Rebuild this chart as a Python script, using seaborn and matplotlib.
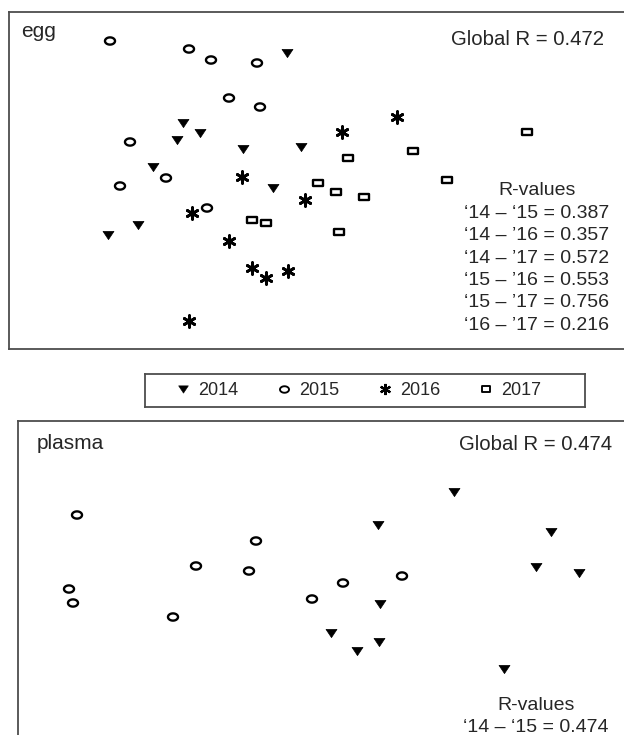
import numpy as np
import pandas as pd
import matplotlib
matplotlib.use("Agg")
import matplotlib.pyplot as plt
import seaborn as sns
from matplotlib.path import Path
from matplotlib.lines import Line2D

# NMDS coordinates (screen units)
egg_2014_x = [287, 183, 200, 177, 243, 301, 153, 273, 138, 108]
egg_2014_y = [53, 123, 133, 140, 149, 147, 167, 188, 225, 235]
egg_2015_x = [110, 189, 211, 257, 229, 260, 130, 166, 120, 207]
egg_2015_y = [41, 49, 60, 63, 98, 107, 142, 178, 186, 208]
egg_2016_x = [397, 342, 242, 305, 192, 229, 252, 266, 288, 189]
egg_2016_y = [117, 132, 177, 200, 213, 241, 268, 278, 271, 321]
egg_2017_x = [527, 413, 348, 447, 318, 336, 364, 252, 266, 339]
egg_2017_y = [132, 151, 158, 180, 183, 192, 197, 220, 223, 232]

plasma_2014_x = [454, 378, 551, 536, 579, 380, 331, 379, 357, 504]
plasma_2014_y = [492, 525, 532, 567, 573, 604, 633, 642, 651, 669]
plasma_2015_x = [77, 256, 196, 249, 69, 73, 312, 173, 402, 343]
plasma_2015_y = [515, 541, 566, 571, 589, 603, 599, 617, 576, 583]

years = ["2014", "2015", "2016", "2017"]
egg_r = ["\u201814 \u2013 \u201815 = 0.387", "\u201814 \u2013 \u201916 = 0.357",
         "\u201814 \u2013 \u201917 = 0.572", "\u201815 \u2013 \u201916 = 0.553",
         "\u201815 \u2013 \u201917 = 0.756", "\u201816 \u2013 \u201917 = 0.216"]
plasma_r = ["\u201814 \u2013 \u201815 = 0.474"]

egg = pd.concat([
    pd.DataFrame({"x": egg_2014_x, "y": egg_2014_y, "year": "2014"}),
    pd.DataFrame({"x": egg_2015_x, "y": egg_2015_y, "year": "2015"}),
    pd.DataFrame({"x": egg_2016_x, "y": egg_2016_y, "year": "2016"}),
    pd.DataFrame({"x": egg_2017_x, "y": egg_2017_y, "year": "2017"}),
])
plasma = pd.concat([
    pd.DataFrame({"x": plasma_2014_x, "y": plasma_2014_y, "year": "2014"}),
    pd.DataFrame({"x": plasma_2015_x, "y": plasma_2015_y, "year": "2015"}),
])

sns.set_style("white")
plt.rcParams["font.family"] = ["Liberation Sans", "DejaVu Sans"]

# marker shapes
t = np.linspace(0, 2 * np.pi, 60)
ellipse = Path(np.column_stack([np.cos(t), 0.72 * np.sin(t)]), closed=True)
rect = Path([(-1, -0.75), (1, -0.75), (1, 0.75), (-1, 0.75), (-1, -0.75)], closed=True)
tri = Path([(-1, 0.75), (1, 0.75), (0, -0.75), (-1, 0.75)], closed=True)
styles = {
    "2014": dict(marker=tri, s=62, facecolor="black", edgecolor="black", linewidth=0.5),
    "2015": dict(marker=ellipse, s=52, facecolor="none", edgecolor="black", linewidth=1.7),
    "2016": dict(marker=(6, 2, 0), s=72, color="black", linewidth=2.0),
    "2017": dict(marker=rect, s=44, facecolor="none", edgecolor="black", linewidth=1.7),
}
legend_sizes = {"2014": 7, "2015": 6.5, "2016": 8, "2017": 6}

W, H = 624, 735
fig = plt.figure(figsize=(6.24, 7.35), dpi=100)
frame = "#4d4d4d"


def panel(rect_px, xlim, ylim, df):
    l, t_, r, b = rect_px
    ax = fig.add_axes([l / W, 1 - b / H, (r - l) / W, (b - t_) / H])
    for yr, sub in df.groupby("year"):
        sns.scatterplot(data=sub, x="x", y="y", ax=ax, legend=False, **styles[yr])
    ax.set_xlim(*xlim)
    ax.set_ylim(*ylim)
    ax.set_xticks([])
    ax.set_yticks([])
    ax.set_xlabel("")
    ax.set_ylabel("")
    for sp in ax.spines.values():
        sp.set_color(frame)
        sp.set_linewidth(1.3)
    return ax


ax1 = panel((9, 12, 645, 349), (9, 645), (349, 12), egg)
ax1.text(21, 37, "egg", fontsize=15, va="baseline")
ax1.text(604, 45, "Global R = 0.472", fontsize=14.7, ha="right", va="baseline")
ax1.text(537, 195, "R-values", fontsize=14, ha="center", va="baseline")
for i, s in enumerate(egg_r):
    ax1.text(537, 218 + i * 22.3, s, fontsize=14, ha="center", va="baseline")

ax2 = panel((18, 421, 645, 760), (18, 645), (760, 421), plasma)
ax2.text(37, 449, "plasma", fontsize=15, va="baseline")
ax2.text(612, 450, "Global R = 0.474", fontsize=14.7, ha="right", va="baseline")
ax2.text(536, 710, "R-values", fontsize=14, ha="center", va="baseline")
ax2.text(536, 732, plasma_r[0], fontsize=14, ha="center", va="baseline")

# legend box
axl = fig.add_axes([145 / W, 1 - 407 / H, 440 / W, 33 / H])
axl.set_xticks([])
axl.set_yticks([])
for sp in axl.spines.values():
    sp.set_color(frame)
    sp.set_linewidth(1.3)
handles = []
for yr in years:
    st = styles[yr]
    handles.append(Line2D([], [], linestyle="none", marker=st["marker"],
                          markersize=legend_sizes[yr],
                          markerfacecolor=st.get("facecolor", "black"),
                          markeredgecolor="black",
                          markeredgewidth=st["linewidth"] * 0.8))
axl.legend(handles, years, loc="center", ncol=4, frameon=False, fontsize=13,
           handlelength=0.6, handletextpad=0.5, columnspacing=2.27,
           bbox_to_anchor=(0.487, 0.5))

fig.savefig("out.png", dpi=100)
